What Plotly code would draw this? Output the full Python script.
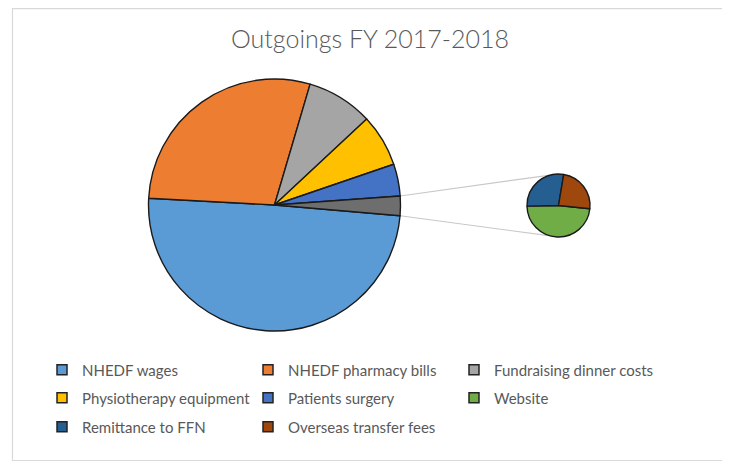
import math
import plotly.graph_objects as go

# ---------------- data ----------------
main_labels = ["NHEDF wages", "NHEDF pharmacy bills", "Fundraising dinner costs",
               "Physiotherapy equipment", "Patients surgery"]
main_values = [49.5, 28.7, 8.5, 6.7, 4.1]
main_colors = ["#5B9BD5", "#ED7D31", "#A5A5A5", "#FFC000", "#4472C4"]

other_label = "Other"
other_color = "#6E6E6E"

sub_labels = ["Website", "Remittance to FFN", "Overseas transfer fees"]
sub_values = [1.2, 0.7, 0.6]
sub_colors = ["#70AD47", "#255E91", "#9E480E"]

legend_rows = [
    ["NHEDF wages", "NHEDF pharmacy bills", "Fundraising dinner costs"],
    ["Physiotherapy equipment", "Patients surgery", "Website"],
    ["Remittance to FFN", "Overseas transfer fees"],
]

title_text = "Outgoings FY 2017-2018"

# ---------------- layout geometry ----------------
W, H = 730, 462
OFF = 8  # page body margin of the rendered html
FONT = "Lato"
TXT = "#595959"

main_cx, main_cy, main_r = 274.5, 205.0, 126.0
sub_cx, sub_cy, sub_r = 558.5, 205.5, 31.5
main_rot = 94.9
sub_rot = 96.0


def px_x(x):
    return (x - OFF) / W


def px_y(y):
    return 1 - (y - OFF) / H


def domain(cx, cy, r):
    return dict(x=[px_x(cx - r), px_x(cx + r)], y=[px_y(cy + r), px_y(cy - r)])


other_value = sum(sub_values)
pie_labels = main_labels + [other_label]
pie_values = main_values + [other_value]
pie_colors = main_colors + [other_color]
color_of = dict(zip(main_labels + sub_labels, main_colors + sub_colors))

fig = go.Figure()

fig.add_trace(go.Pie(
    labels=pie_labels, values=pie_values, sort=False, direction="clockwise",
    rotation=main_rot, textinfo="none", hoverinfo="label+value",
    marker=dict(colors=pie_colors, line=dict(color="#1A1A1A", width=1.4)),
    domain=domain(main_cx, main_cy, main_r), showlegend=False,
))

fig.add_trace(go.Pie(
    labels=sub_labels, values=sub_values, sort=False, direction="clockwise",
    rotation=sub_rot, textinfo="none", hoverinfo="label+value",
    marker=dict(colors=sub_colors, line=dict(color="#1A1A1A", width=1.4)),
    domain=domain(sub_cx, sub_cy, sub_r), showlegend=False,
))

# legend-only entries (three rows -> three legends)
legend_names = ["legend", "legend2", "legend3"]
for row, lg in zip(legend_rows, legend_names):
    for name in row:
        fig.add_trace(go.Scatter(
            x=[None], y=[None], mode="markers", name=name, legend=lg,
            marker=dict(symbol="square", size=10, color=color_of[name],
                        line=dict(color="#222222", width=1.5)),
            hoverinfo="skip",
        ))

# connector lines computed from the "Other" slice geometry
total = sum(pie_values)
a_start = math.radians(main_rot + 360 * sum(main_values) / total)
a_end = math.radians(main_rot + 360)
p1 = (main_cx + main_r * math.sin(a_start), main_cy - main_r * math.cos(a_start))
p2 = (main_cx + main_r * math.sin(a_end), main_cy - main_r * math.cos(a_end))
off = math.radians(15)
q1 = (sub_cx - sub_r * math.sin(off), sub_cy - sub_r * math.cos(off))
q2 = (sub_cx - sub_r * math.sin(off), sub_cy + sub_r * math.cos(off))

shapes = [
    dict(type="line", xref="paper", yref="paper", layer="below",
         x0=px_x(p1[0]), y0=px_y(p1[1]), x1=px_x(q1[0]), y1=px_y(q1[1]),
         line=dict(color="#C8C8C8", width=1.2)),
    dict(type="line", xref="paper", yref="paper", layer="below",
         x0=px_x(p2[0]), y0=px_y(p2[1]), x1=px_x(q2[0]), y1=px_y(q2[1]),
         line=dict(color="#C8C8C8", width=1.2)),
    dict(type="rect", xref="paper", yref="paper", layer="below",
         x0=px_x(12.5), y0=px_y(460.5), x1=px_x(725), y1=px_y(8.6),
         line=dict(color="#D9D9D9", width=1.2)),
]

legend_ys = [370, 398, 427]
legend_common = dict(orientation="h", xanchor="left", yanchor="middle",
                     entrywidth=161, entrywidthmode="pixels",
                     font=dict(family=FONT, size=15, color=TXT),
                     bgcolor="rgba(0,0,0,0)", itemwidth=30)
legend_x = px_x(42)

fig.update_layout(
    width=W, height=H,
    margin=dict(l=0, r=0, t=0, b=0),
    paper_bgcolor="white", plot_bgcolor="white",
    font=dict(family=FONT, color=TXT),
    title=dict(text=title_text, x=px_x(370), xanchor="center",
               y=px_y(39), yanchor="middle", yref="container",
               font=dict(family=FONT, size=25, color=TXT, weight=300)),
    xaxis=dict(visible=False), yaxis=dict(visible=False),
    shapes=shapes,
    legend=dict(x=legend_x, y=px_y(legend_ys[0]), **legend_common),
    legend2=dict(x=legend_x, y=px_y(legend_ys[1]), **legend_common),
    legend3=dict(x=legend_x, y=px_y(legend_ys[2]), **legend_common),
)

fig.write_html("out.html")
